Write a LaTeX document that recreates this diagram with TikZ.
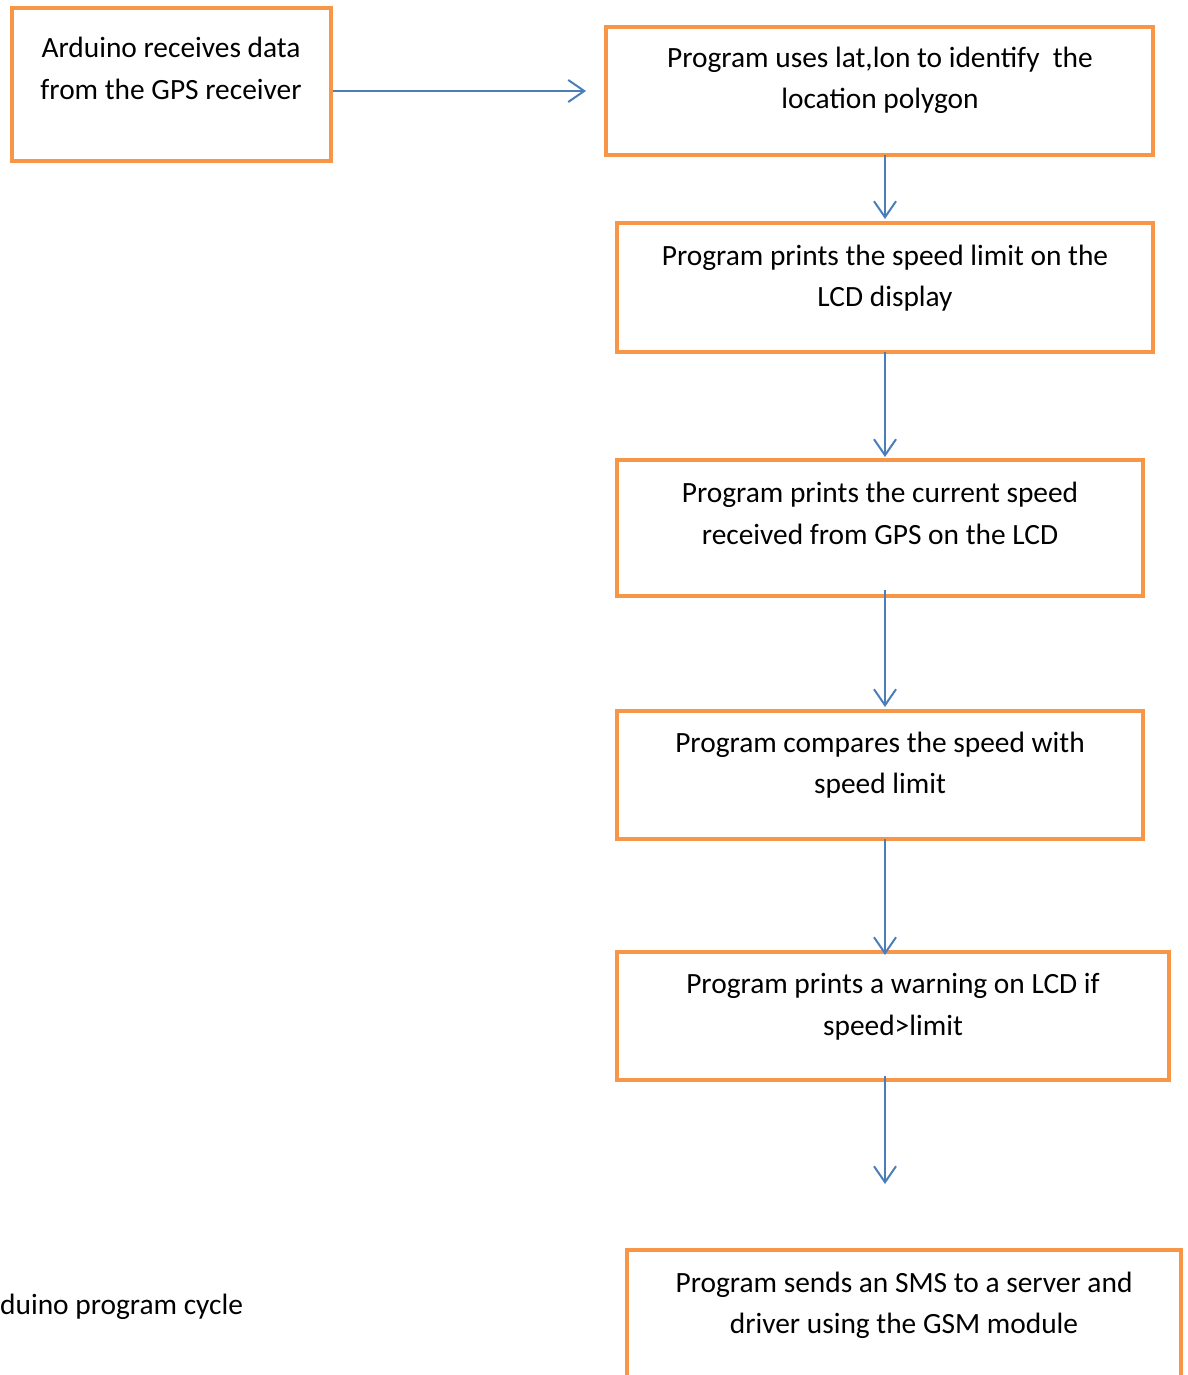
\documentclass[tikz,border=0pt]{standalone}
\usepackage{fontspec}
\setmainfont{Carlito}
\usetikzlibrary{arrows.meta}
\definecolor{boxorange}{HTML}{F79646}
\definecolor{arrowblue}{HTML}{4A7EBB}
\tikzset{
  flowbox/.style={draw=boxorange, line width=4pt, rectangle, inner sep=0pt},
  txt/.style={font=\fontsize{29.4}{35}\selectfont, anchor=base, inner sep=0pt, text=black},
  flow/.style={draw=arrowblue, line width=2pt, -{Straight Barb[length=16pt,width=22pt,line width=2pt]}}
}
\begin{document}
\begin{tikzpicture}[x=1pt,y=-1pt]
\useasboundingbox (0,0) rectangle (1187,1375);
% boxes
\node[flowbox, minimum width=319pt, minimum height=153pt] (b1) at (171.5,84.5) {};
\node[flowbox, minimum width=547pt, minimum height=128pt] (b2) at (879.5,91) {};
\node[flowbox, minimum width=536pt, minimum height=129pt] (b3) at (885,287.5) {};
\node[flowbox, minimum width=526pt, minimum height=136pt] (b4) at (880,528) {};
\node[flowbox, minimum width=526pt, minimum height=128pt] (b5) at (880,775) {};
\node[flowbox, minimum width=552pt, minimum height=128pt] (b6) at (893,1016) {};
\draw[draw=boxorange, line width=4pt] (627,1400) -- (627,1250) -- (1181,1250) -- (1181,1400);
\coordinate (b7) at (904,1250);
% texts
\node[txt] (t1a) at (171,58) {Arduino receives data};
\node[txt] (t1b) at (171,100) {from the GPS receiver};
\node[txt] (t2a) at (880,68) {Program uses lat,lon to identify\ \ the};
\node[txt] (t2b) at (880,109) {location polygon};
\node[txt] (t3a) at (885,265) {Program prints the speed limit on the};
\node[txt] (t3b) at (885,306) {LCD display};
\node[txt] (t4a) at (880,502) {Program prints the current speed};
\node[txt] (t4b) at (880,544) {received from GPS on the LCD};
\node[txt] (t5a) at (880,752) {Program compares the speed with};
\node[txt] (t5b) at (880,793) {speed limit};
\node[txt] (t6a) at (893,993) {Program prints a warning on LCD if};
\node[txt] (t6b) at (893,1035) {speed>limit};
\node[txt] (t7a) at (904,1292) {Program sends an SMS to a server and};
\node[txt] (t7b) at (904,1333) {driver using the GSM module};
\node[txt, anchor=base west] (cap) at (0,1314) {duino program cycle};
% connectors
\coordinate (a1end) at (586,91);
\draw[flow] (b1.east |- a1end) -- (a1end);
\draw[flow] (885,155) -- (885,219);
\draw[flow] (885,352) -- (885,457);
\draw[flow] (885,590) -- (885,707);
\draw[flow] (885,839) -- (885,955);
\coordinate (a6end) at (885,1184);
\draw[flow] (885,1076) -- (a6end);
\end{tikzpicture}
\end{document}
